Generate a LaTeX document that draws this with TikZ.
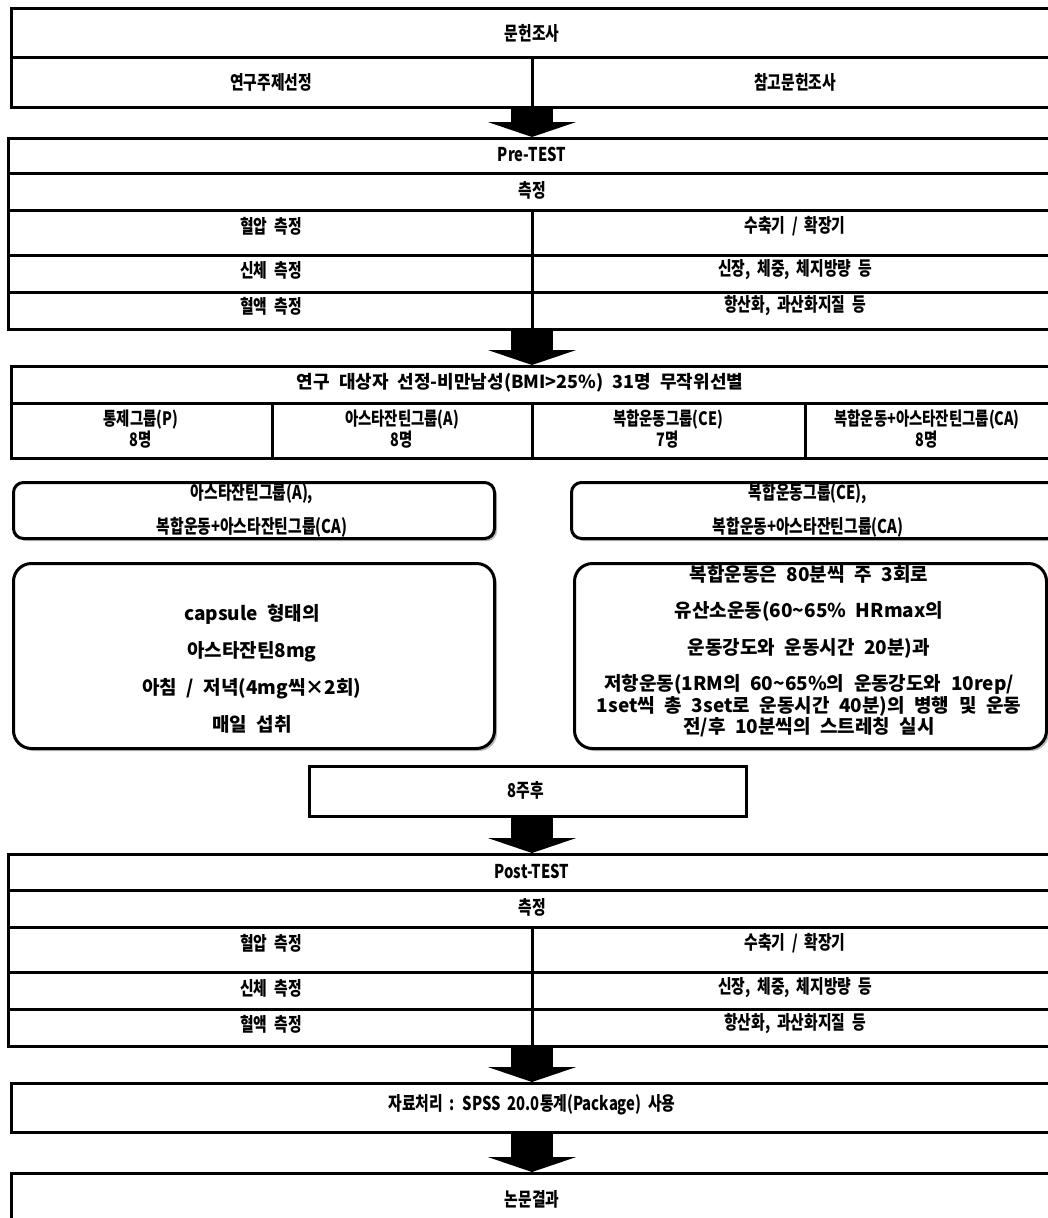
\documentclass[tikz,border=0pt]{standalone}
\usepackage{fontspec}
\newfontfamily\krn{Noto Sans CJK KR}[WordSpace=2.2]
\newfontfamily\krc{Noto Sans CJK KR}[FakeStretch=0.78,WordSpace=2]
\usetikzlibrary{arrows.meta,shadows}
\tikzset{
  box/.style={draw, line width=3pt, inner sep=0pt, anchor=north west, fill=white},
  rbox/.style={box, rounded corners=18pt, drop shadow={shadow xshift=2.5pt, shadow yshift=-2.5pt, fill=black!55}},
  lbox/.style={box, rounded corners=10pt, drop shadow={shadow xshift=2.5pt, shadow yshift=-2.5pt, fill=black!55}},
  rule/.style={line width=3pt},
  ct/.style={font=\krc\bfseries\fontsize{19}{20}\selectfont, inner sep=0pt, align=center},
  gt/.style={font=\krc\bfseries\fontsize{18.5}{16.5}\selectfont, inner sep=0pt, align=center},
  nt/.style={font=\krn\bfseries\fontsize{19}{21}\selectfont, inner sep=0pt, align=center},
  bigarrow/.style={line width=42pt, -{Triangle[width=88pt,length=15pt]}},
}
\begin{document}
\begin{tikzpicture}[x=1pt,y=-1pt]
\useasboundingbox (0,0) rectangle (1048,1218);
\clip (0,0) rectangle (1048,1218);
\coordinate (mid) at (532,0);

% box 1
\node[box, minimum width=1044pt, minimum height=99pt] (b1) at (10,7) {};
\draw[rule] (10,57) -- (1054,57);
\draw[rule] (532,57) -- (532,106);
\node[ct] (t11) at (532,33) {문헌조사};
\node[ct] (t12) at (271,82) {연구주제선정};
\node[ct] (t13) at (795,82) {참고문헌조사};

% pre-test
\node[box, minimum width=1050pt, minimum height=191pt] (pre) at (7,137) {};
\draw[rule] (7,173) -- (1057,173);
\draw[rule] (7,210) -- (1057,210);
\draw[rule] (7,255) -- (1057,255);
\draw[rule] (7,292) -- (1057,292);
\draw[rule] (532,210) -- (532,328);
\node[ct] (p0) at (532,154) {Pre-TEST};
\node[ct] (p1) at (532,190) {측정};
\node[ct] (p2) at (271,226) {혈압  측정};
\node[ct] (p3) at (795,226) {수축기 / 확장기};
\node[ct] (p4) at (271,270) {신체 측정};
\node[ct] (p5) at (795,270) {신장, 체중, 체지방량 등};
\node[ct] (p6) at (271,306) {혈액 측정};
\node[ct] (p7) at (795,306) {항산화, 과산화지질 등};

% selection
\node[box, minimum width=1044pt, minimum height=92pt] (sel) at (10,365) {};
\draw[rule] (10,403) -- (1054,403);
\draw[rule] (272,403) -- (272,457);
\draw[rule] (532,403) -- (532,457);
\draw[rule] (805,403) -- (805,457);
\node[nt, font=\krn\bfseries\fontsize{18}{20}\selectfont] (s0) at (520,383) {연구 대상자 선정-비만남성(BMI>25\%) 31명 무작위선별};
\node[gt] (g1) at (141,429) {통제그룹(P)\\8명};
\node[gt] (g2) at (402,429) {아스타잔틴그룹(A)\\8명};
\node[gt] (g3) at (668,429) {복합운동그룹(CE)\\7명};
\node[gt] (g4) at (927,429) {복합운동+아스타잔틴그룹(CA)\\8명};

% label boxes
\node[lbox, minimum width=481pt, minimum height=56pt] (labL) at (12,481) {};
\node[lbox, minimum width=486pt, minimum height=56pt] (labR) at (570,481) {};
\node[ct, font=\krc\bfseries\fontsize{19}{34}\selectfont] (lt1) at (252,510) {아스타잔틴그룹(A),\\복합운동+아스타잔틴그룹(CA)};
\node[ct, font=\krc\bfseries\fontsize{19}{34}\selectfont] (lt2) at (808,510) {복합운동그룹(CE),\\복합운동+아스타잔틴그룹(CA)};

% big boxes
\node[rbox, minimum width=481pt, minimum height=185pt] (bigL) at (12,562) {};
\node[rbox, minimum width=472pt, minimum height=185pt] (bigR) at (573,562) {};
\node[nt, font=\krn\bfseries\fontsize{19}{37}\selectfont] (bt1) at (252,669) {capsule 형태의\\아스타잔틴8mg\\아침 / 저녁(4mg씩×2회)\\매일 섭취};
\node[nt, font=\krn\bfseries\fontsize{19}{21.5}\selectfont] (bt2) at (809,651) {복합운동은 80분씩 주 3회로\\[15pt]유산소운동(60\textasciitilde65\% HRmax의\\[15pt]운동강도와 운동시간 20분)과\\[15pt]저항운동(1RM의 60\textasciitilde65\%의 운동강도와 10rep/\\1set씩 총 3set로 운동시간 40분)의 병행 및 운동\\전/후 10분씩의 스트레칭 실시};

% 8 weeks
\node[box, minimum width=437pt, minimum height=50pt] (wk) at (308,765) {};
\node[ct] (wt) at (526,790) {8주후};

% post-test
\node[box, minimum width=1050pt, minimum height=192pt] (post) at (7,853) {};
\draw[rule] (7,890) -- (1057,890);
\draw[rule] (7,927) -- (1057,927);
\draw[rule] (7,972) -- (1057,972);
\draw[rule] (7,1009) -- (1057,1009);
\draw[rule] (532,927) -- (532,1045);
\node[ct] (q0) at (532,871) {Post-TEST};
\node[ct] (q1) at (532,907) {측정};
\node[ct] (q2) at (271,943) {혈압  측정};
\node[ct] (q3) at (795,943) {수축기 / 확장기};
\node[ct] (q4) at (271,988) {신체 측정};
\node[ct] (q5) at (795,988) {신장, 체중, 체지방량 등};
\node[ct] (q6) at (271,1024) {혈액 측정};
\node[ct] (q7) at (795,1024) {항산화, 과산화지질 등};

% spss
\node[box, minimum width=1044pt, minimum height=49pt] (spss) at (10,1082) {};
\node[ct] (st) at (532,1105) {자료처리 : SPSS 20.0통계(Package) 사용};

% result
\node[box, minimum width=1044pt, minimum height=80pt] (res) at (10,1172) {};
\node[ct] (rt) at (532,1199) {논문결과};

% arrows
\draw[bigarrow] (mid |- b1.south) -- (mid |- pre.north);
\draw[bigarrow] (mid |- pre.south) -- (mid |- sel.north);
\draw[bigarrow] (mid |- wk.south) -- (mid |- post.north);
\draw[bigarrow] (mid |- post.south) -- (mid |- spss.north);
\draw[bigarrow] (mid |- spss.south) -- (mid |- res.north);
\end{tikzpicture}
\end{document}
